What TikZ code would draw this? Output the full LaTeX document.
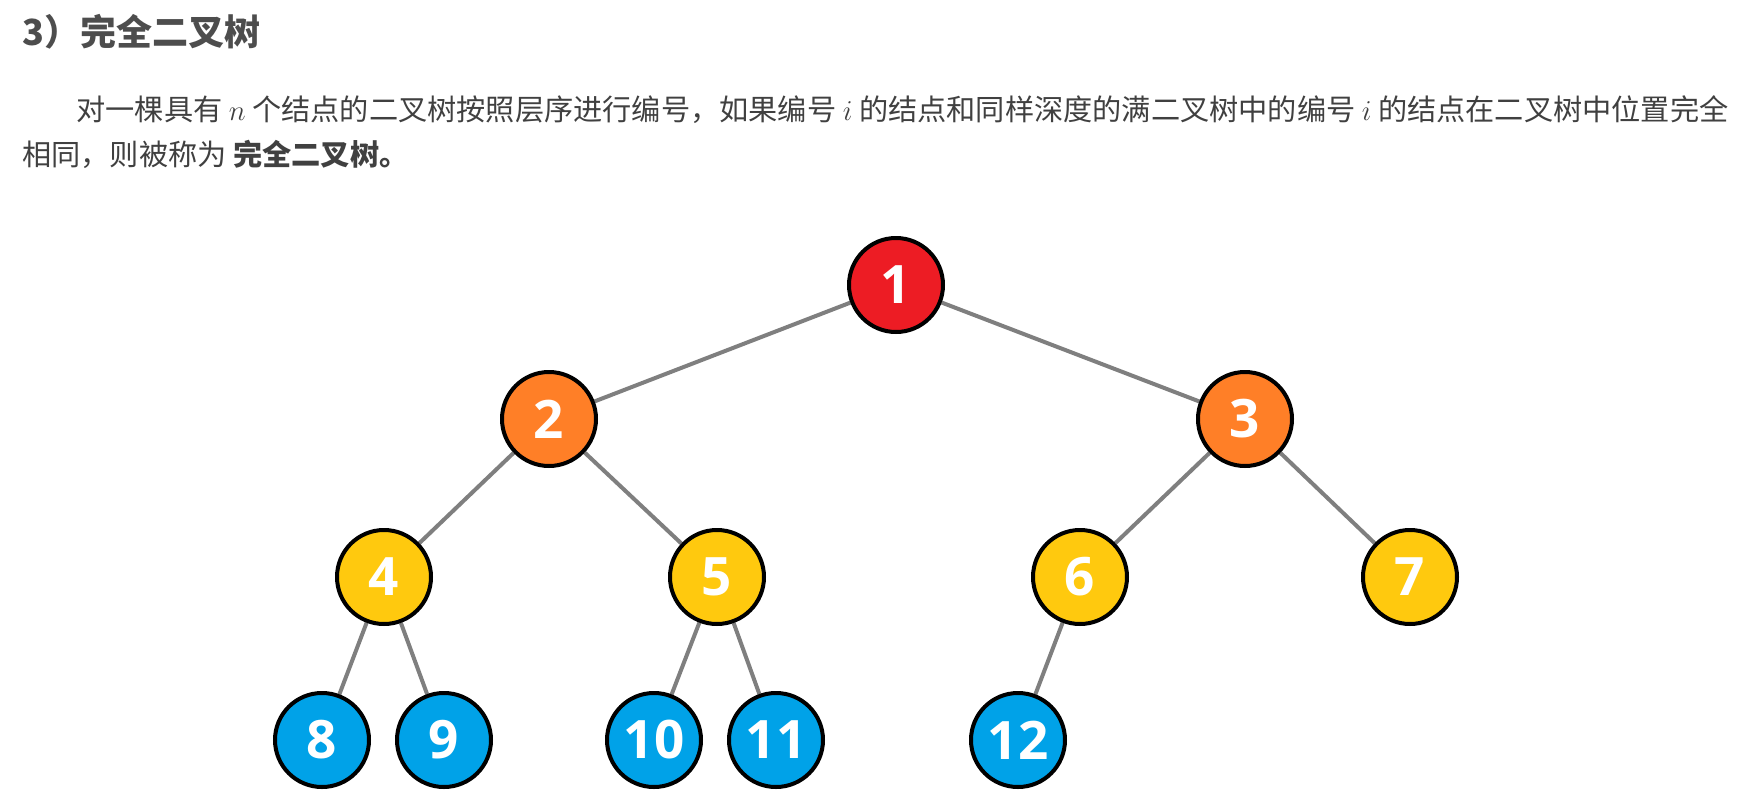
\documentclass[tikz,border=0pt]{standalone}
\usepackage{fontspec}
\newfontfamily\cjk{Noto Sans CJK SC}
\newfontfamily\numfont{Open Sans}
\usetikzlibrary{backgrounds}
\definecolor{nodered}{RGB}{237,28,36}
\definecolor{nodeorange}{RGB}{255,127,39}
\definecolor{nodeyellow}{RGB}{255,201,14}
\definecolor{nodeblue}{RGB}{0,162,232}
\definecolor{edgegray}{RGB}{127,127,127}
\definecolor{titlegray}{RGB}{77,77,77}
\definecolor{textgray}{RGB}{64,64,64}
\begin{document}
\begin{tikzpicture}[x=0.5pt, y=-0.5pt,
        tnode/.style={circle, draw=black, line width=2pt, minimum size=47pt, inner sep=0pt, text=white, font=\numfont\bfseries\fontsize{26.5}{30}\selectfont},
        tedge/.style={draw=edgegray, line width=2pt},
        textline/.style={anchor=west, inner sep=0pt, text=textgray, font=\cjk\fontsize{14.6}{17}\selectfont}]
    \useasboundingbox (0,0) rectangle (1742,804);
    \node [anchor=west, inner sep=0pt, text=titlegray, font=\cjk\bfseries\fontsize{18}{21}\selectfont] (title) at (22,32) {3）完全二叉树};
    \node [textline] (lineone) at (76,110) {对一棵具有 $n$ 个结点的二叉树按照层序进行编号，如果编号 $i$ 的结点和同样深度的满二叉树中的编号 $i$ 的结点在二叉树中位置完全};
    \node [textline] (linetwo) at (22,154) {相同，则被称为 {\bfseries 完全二叉树。}};
    \node [tnode, fill=nodered] (n1) at (896,285) {1};
    \node [tnode, fill=nodeorange] (n2) at (549,419) {2};
    \node [tnode, fill=nodeorange] (n3) at (1245,419) {3};
    \node [tnode, fill=nodeyellow] (n4) at (384,577) {4};
    \node [tnode, fill=nodeyellow] (n5) at (717,577) {5};
    \node [tnode, fill=nodeyellow] (n6) at (1080,577) {6};
    \node [tnode, fill=nodeyellow] (n7) at (1410,577) {7};
    \node [tnode, fill=nodeblue] (n8) at (322,740) {8};
    \node [tnode, fill=nodeblue] (n9) at (444,740) {9};
    \node [tnode, fill=nodeblue] (n10) at (654,740) {10};
    \node [tnode, fill=nodeblue] (n11) at (776,740) {11};
    \node [tnode, fill=nodeblue] (n12) at (1018,740) {12};
    \begin{scope}[on background layer]
        \draw [tedge] (n1) -- (n2);
        \draw [tedge] (n1) -- (n3);
        \draw [tedge] (n2) -- (n4);
        \draw [tedge] (n2) -- (n5);
        \draw [tedge] (n3) -- (n6);
        \draw [tedge] (n3) -- (n7);
        \draw [tedge] (n4) -- (n8);
        \draw [tedge] (n4) -- (n9);
        \draw [tedge] (n5) -- (n10);
        \draw [tedge] (n5) -- (n11);
        \draw [tedge] (n6) -- (n12);
    \end{scope}
\end{tikzpicture}
\end{document}
